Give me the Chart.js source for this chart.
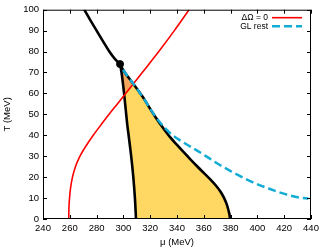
<!DOCTYPE html>
<html>
<head>
<meta charset="utf-8">
<script src="https://cdn.jsdelivr.net/npm/chart.js@4"></script>
<style>
  body { margin: 0; background: #fff; }
  canvas { display: block; }
</style>
</head>
<body>
<canvas id="chart" width="332" height="249"></canvas>
<script>
// tick labels
var xTicks = [240, 260, 280, 300, 320, 340, 360, 380, 400, 420, 440];
var yTicks = [0, 10, 20, 30, 40, 50, 60, 70, 80, 90, 100];

// Delta Omega = 0 line
var redMu = [259.2, 259.35, 259.8, 260.6, 262, 264.2, 267.6, 272.2, 277.5, 283.3, 289.3, 295.5, 301.7, 314.1, 326.4, 338, 349];
var redT  = [0, 5, 10, 15, 20, 25, 30, 35, 40, 45, 50, 55, 60, 70, 80, 90, 100];

// GL rest
var glMu = [299.7, 303.5, 307.5, 312, 316, 320, 324, 328, 332, 336, 342, 350, 358, 365, 372, 380, 389, 395, 402, 410, 417, 424, 432, 438];
var glT  = [71.3, 67.8, 64.5, 60.5, 56.8, 52.6, 48.9, 45.6, 42.8, 40.4, 37.7, 34.6, 31.5, 28.6, 25.8, 22.9, 19.9, 18, 16.1, 14.2, 12.6, 11.3, 10.2, 9.8];

// black line above the end point
var upperMu = [270.8, 275.3, 280, 284.7, 289.5, 293.6, 297.5];
var upperT  = [100, 95, 90, 85, 80, 76.5, 74];

// left edge of the region
var leftMu = [297.5, 298.6, 299.6, 300.5, 301.3, 302.1, 302.9, 303.9, 305.8, 307.4, 308.6, 309.4];
var leftT  = [74, 70, 65, 60, 55, 50, 45, 40, 30, 20, 10, 0];

// right edge of the region
var rightMu = [297.5, 299.7, 303.5, 307.5, 312, 316, 320, 324, 327.5, 331, 335, 340, 345, 350, 355, 360, 365, 369, 372.5, 375, 377, 378.4, 379.2, 379.6];
var rightT  = [74, 71.3, 67.8, 64.5, 60.5, 56.8, 52.6, 48.6, 45.4, 42.3, 39, 35.4, 31.9, 28.5, 25.2, 22, 18.8, 16, 13, 10.2, 7.2, 4.2, 2, 0];

// part of the region above the red line
var orangeMu = [300.7, 300.5, 299.6, 298.6, 297.5, 299.7, 303.5, 307.6];
var orangeT  = [59.2, 60, 65, 70, 74, 71.3, 67.8, 64.5];

// end point
var dotMu = [297.5];
var dotT  = [74];

function pts(mu, t) {
    return mu.map(function (m, i) { return {x: m, y: t[i]}; });
}

var region = pts(leftMu, leftT).reverse().concat(pts(rightMu, rightT).slice(1));

var fontFamily = '"Liberation Sans", Arial, Helvetica, sans-serif';
Chart.defaults.font.family = fontFamily;
Chart.defaults.font.size = 9.5;
Chart.defaults.color = '#000';

// gnuplot style frame with inward ticks, and the key in the top right corner
var framePlugin = {
    id: 'frame',
    afterDatasetsDraw: function (chart) {
        var ctx = chart.ctx, a = chart.chartArea;
        var xs = chart.scales.x, ys = chart.scales.y;
        ctx.save();
        ctx.strokeStyle = '#000';
        ctx.lineWidth = 1;
        ctx.beginPath();
        xs.ticks.forEach(function (t) {
            var px = Math.round(xs.getPixelForValue(t.value)) + 0.5;
            ctx.moveTo(px, a.bottom); ctx.lineTo(px, a.bottom - 4);
            ctx.moveTo(px, a.top); ctx.lineTo(px, a.top + 4);
        });
        ys.ticks.forEach(function (t) {
            var py = Math.round(ys.getPixelForValue(t.value)) + 0.5;
            ctx.moveTo(a.left, py); ctx.lineTo(a.left + 4, py);
            ctx.moveTo(a.right, py); ctx.lineTo(a.right - 4, py);
        });
        ctx.stroke();
        ctx.strokeRect(a.left + 0.5, a.top + 0.5, a.right - a.left - 1, a.bottom - a.top - 1);

        // key
        ctx.font = '8.5px ' + fontFamily;
        ctx.textAlign = 'right';
        ctx.textBaseline = 'middle';
        var row = 0;
        chart.data.datasets.forEach(function (ds) {
            if (!ds.label) return;
            var y = a.top + 8 + row * 8.5;
            ctx.fillStyle = '#000';
            ctx.fillText(ds.label, a.right - 43, y);
            ctx.strokeStyle = ds.borderColor;
            ctx.lineWidth = ds.borderWidth;
            ctx.setLineDash(ds.borderDash || []);
            ctx.beginPath();
            ctx.moveTo(a.right - 39, y);
            ctx.lineTo(a.right - 9, y);
            ctx.stroke();
            ctx.setLineDash([]);
            row++;
        });
        ctx.restore();
    }
};

var ctx = document.getElementById('chart');
var myChart = new Chart(ctx, {
    type: 'line',
    data: {
        datasets: [{
            label: 'ΔΩ = 0',
            data: pts(redMu, redT),
            borderColor: '#ff0000',
            borderWidth: 1.6,
            cubicInterpolationMode: 'monotone',
            order: 2
        }, {
            label: 'GL rest',
            data: pts(glMu, glT),
            borderColor: '#12acd4',
            borderWidth: 2.5,
            borderDash: [8, 4],
            cubicInterpolationMode: 'monotone',
            order: 1
        }, {
            data: pts(upperMu, upperT),
            borderColor: '#000',
            borderWidth: 2.6,
            cubicInterpolationMode: 'monotone',
            order: 3
        }, {
            data: pts(leftMu, leftT),
            borderColor: '#000',
            borderWidth: 2.6,
            tension: 0.4,
            order: 3
        }, {
            data: pts(rightMu, rightT),
            borderColor: '#000',
            borderWidth: 2.6,
            cubicInterpolationMode: 'monotone',
            order: 3
        }, {
            data: pts(dotMu, dotT),
            showLine: false,
            pointRadius: 3.5,
            pointBackgroundColor: '#000',
            pointBorderColor: '#000',
            order: 0
        }, {
            data: pts(orangeMu, orangeT),
            borderWidth: 0,
            borderColor: 'rgba(0,0,0,0)',
            backgroundColor: '#f6a65a',
            fill: 'shape',
            order: 8
        }, {
            data: region,
            borderWidth: 0,
            borderColor: 'rgba(0,0,0,0)',
            backgroundColor: '#fed862',
            fill: 'shape',
            order: 9
        }]
    },
    options: {
        responsive: false,
        animation: false,
        devicePixelRatio: 1,
        elements: {
            point: { radius: 0, hoverRadius: 0 },
            line: { tension: 0, fill: false }
        },
        layout: { padding: { top: 9, right: 21, left: 0, bottom: 0 } },
        plugins: {
            legend: { display: false },
            tooltip: { enabled: false }
        },
        scales: {
            x: {
                type: 'linear',
                min: 240,
                max: 440,
                afterBuildTicks: function (s) { s.ticks = xTicks.map(function (v) { return {value: v}; }); },
                afterFit: function (s) { s.height = 30; },
                ticks: { padding: 4, maxRotation: 0 },
                grid: { display: false, drawTicks: false },
                border: { display: false },
                title: { display: true, text: 'μ (MeV)', padding: { top: 0, bottom: 1 } }
            },
            y: {
                type: 'linear',
                min: 0,
                max: 100,
                afterBuildTicks: function (s) { s.ticks = yTicks.map(function (v) { return {value: v}; }); },
                afterFit: function (s) { s.width = 43; },
                ticks: { padding: 4 },
                grid: { display: false, drawTicks: false },
                border: { display: false },
                title: { display: true, text: 'T (MeV)', padding: { top: 2, bottom: 0 } }
            }
        }
    },
    plugins: [framePlugin]
});
</script>
</body>
</html>
